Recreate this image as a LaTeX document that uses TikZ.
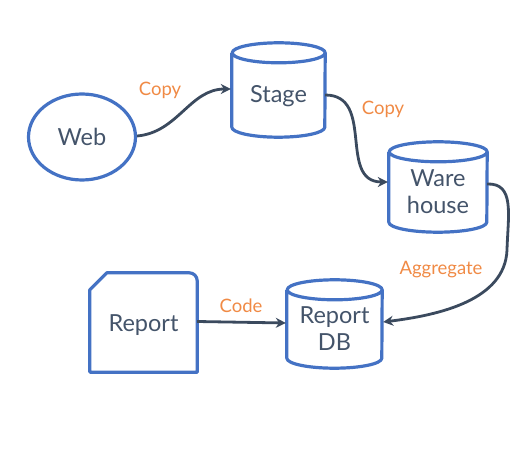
\documentclass[tikz,border=0pt]{standalone}
\usepackage{fontspec}
\setmainfont{Lato}
\usetikzlibrary{arrows.meta,calc,shapes.geometric}
\definecolor{shapeblue}{HTML}{4472C4}
\definecolor{txtdark}{HTML}{44546A}
\definecolor{arrowdark}{HTML}{3B4A5E}
\definecolor{lblorange}{HTML}{F08A45}
\tikzset{
  blueline/.style={draw=shapeblue, line width=3.2pt, line join=round},
  main/.style={text=txtdark, font=\fontsize{23.5}{27}\selectfont, align=center, inner sep=0pt},
  lbl/.style={text=lblorange, font=\fontsize{18.5}{21}\selectfont, inner sep=0pt},
  conn/.style={draw=arrowdark, line width=2.8pt, -{Stealth[length=10pt,width=10pt]}},
  shapebox/.style={inner sep=0pt},
}
% #1 node name, #2 half width, #3 cap radius
\newcommand\dbcyl[3]{%
  \draw[blueline] ($(#1.north west)+(0,-#3)$) -- ($(#1.south west)+(0,#3)$)
    arc[start angle=180,end angle=360,x radius=#2,y radius=#3]
    -- ($(#1.north east)+(0,-#3)$)
    arc[start angle=0,end angle=360,x radius=#2,y radius=#3];}
\begin{document}
\begin{tikzpicture}[x=1pt,y=1pt]
\useasboundingbox (0,0) rectangle (522,450);
% Web
\node[main, draw=shapeblue, line width=3.2pt, ellipse, minimum width=107pt, minimum height=86pt] (web) at (82,313) {Web};
% Stage
\node[shapebox, minimum width=93pt, minimum height=94pt,
  label={[main,yshift=-6pt]center:Stage}] (stage) at (278.5,360) {};
\dbcyl{stage}{46.5}{10}
% Warehouse
\node[shapebox, minimum width=98pt, minimum height=90pt,
  label={[main,yshift=-4.5pt]center:{Ware\\house}}] (wh) at (438,263) {};
\dbcyl{wh}{49}{10}
% Report DB
\node[shapebox, minimum width=95pt, minimum height=88pt,
  label={[main,yshift=-5pt]center:{Report\\DB}}] (rdb) at (334.5,126) {};
\dbcyl{rdb}{47.5}{10}
% Report document
\node[shapebox, minimum width=107pt, minimum height=99pt,
  label={[main,yshift=-2.5pt]center:Report}] (rep) at (143.5,127.5) {};
\draw[blueline] (rep.south west) -- ($(rep.north west)+(0,-17)$) -- ($(rep.north west)+(17,0)$)
  -- ($(rep.north east)+(-8,0)$) arc[start angle=90,end angle=0,radius=8] -- (rep.south east) -- cycle;
% connectors
\draw[conn] ($(web.east)+(0,1)$) to[out=5,in=180] ($(stage.west)+(-1,1)$);
\draw[conn] ($(stage.east)+(0,-5)$) to[out=0,in=180,looseness=1.2] ($(wh.west)+(-1,5)$);
\draw[conn] ($(wh.east)+(0,3)$) .. controls (515,267) and (508,235) .. (507,200)
  .. controls (505,150) and (440,135) .. ($(rdb.east)+(1,2)$);
\draw[conn] ($(rep.east)+(0,1)$) -- ($(rdb.west)+(-1,1)$);
% labels
\node[lbl] (l1) at (160,360) {Copy};
\node[lbl] (l2) at (383,341) {Copy};
\node[lbl] (l3) at (441,180) {Aggregate};
\node[lbl] (l4) at (241,144) {Code};
\end{tikzpicture}
\end{document}
